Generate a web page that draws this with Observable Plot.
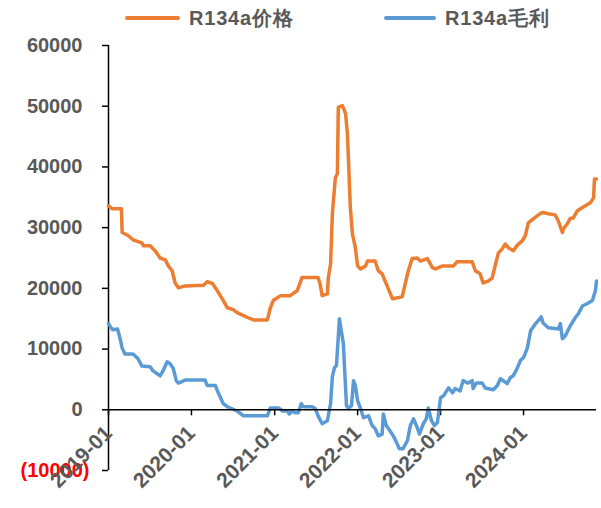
<!DOCTYPE html>
<html>
<head>
<meta charset="utf-8">
<script src="https://cdn.jsdelivr.net/npm/d3@7"></script>
<script src="https://cdn.jsdelivr.net/npm/@observablehq/plot@0.6"></script>
<style>
  html, body { margin: 0; padding: 0; background: #fff; }
  #legend { position: relative; width: 601px; height: 30px; font-family: "Liberation Sans", Arial, sans-serif; font-weight: bold; font-size: 20px; color: #595959; }
  #legend .sw { position: absolute; height: 4px; top: 16px; border-radius: 2px; }
  #legend .lb { position: absolute; top: 7px; line-height: 22px; white-space: nowrap; letter-spacing: 0.8px; }
</style>
</head>
<body>
<div id="legend"></div>
<div id="chart"></div>
<script>
// ---- data ----
const seriesNames = ["R134a价格", "R134a毛利"];
const seriesColors = ["#ED7D31", "#5B9BD5"];

const priceDates = ["2019-01-01","2019-01-18","2019-02-27","2019-03-02","2019-03-28","2019-04-19","2019-05-28","2019-06-03","2019-07-03","2019-07-25","2019-08-16","2019-09-08","2019-09-21","2019-10-08","2019-10-21","2019-11-04","2019-12-05","2020-02-23","2020-03-10","2020-04-02","2020-04-24","2020-05-15","2020-06-07","2020-07-03","2020-07-20","2020-09-04","2020-09-30","2020-11-30","2020-12-13","2020-12-26","2021-01-27","2021-03-10","2021-04-10","2021-04-23","2021-05-02","2021-07-11","2021-07-20","2021-07-29","2021-08-21","2021-08-25","2021-09-04","2021-09-12","2021-09-25","2021-10-04","2021-10-08","2021-10-26","2021-11-09","2021-11-17","2021-11-22","2021-11-30","2021-12-09","2021-12-22","2022-01-01","2022-01-14","2022-02-05","2022-02-14","2022-03-19","2022-04-02","2022-04-19","2022-05-02","2022-06-03","2022-07-16","2022-07-29","2022-08-12","2022-08-29","2022-09-21","2022-10-04","2022-11-04","2022-11-26","2022-12-09","2023-01-10","2023-02-27","2023-03-15","2023-05-20","2023-06-03","2023-06-24","2023-07-07","2023-07-29","2023-08-16","2023-08-29","2023-09-12","2023-09-29","2023-10-13","2023-10-26","2023-11-17","2023-11-26","2023-12-09","2023-12-26","2024-01-09","2024-01-22","2024-02-14","2024-03-14","2024-03-27","2024-04-19","2024-05-19","2024-06-02","2024-06-20","2024-06-24","2024-07-11","2024-07-24","2024-08-07","2024-08-25","2024-09-16","2024-09-29","2024-10-21","2024-11-04","2024-11-08","2024-11-17"];
const priceValues = [33600,33100,33100,29200,28700,28000,27500,27000,27000,26200,25000,24700,23700,22900,20900,20100,20400,20500,21100,20800,19600,18300,16800,16500,16000,15200,14800,14800,16800,18000,18800,18800,19600,20900,21800,21800,20700,18800,19100,21700,24000,32300,38200,38900,49800,50100,48800,45500,41000,33300,29000,26700,23700,23200,23700,24500,24500,22900,22400,21200,18300,18600,20700,22900,24900,25000,24500,24900,23400,23200,23700,23700,24400,24400,22900,22400,20900,21200,21700,23700,25800,26500,27300,26700,26200,26700,27300,27800,28700,30800,31500,32300,32500,32300,32100,31100,29200,29800,30600,31500,31600,32800,33300,33600,34100,34900,38000,38000];

const marginDates = ["2019-01-01","2019-01-18","2019-02-10","2019-02-23","2019-03-02","2019-03-14","2019-04-19","2019-05-11","2019-05-28","2019-07-03","2019-07-16","2019-08-16","2019-08-29","2019-09-16","2019-09-29","2019-10-13","2019-10-26","2019-11-04","2019-12-05","2020-03-01","2020-03-10","2020-04-15","2020-04-28","2020-05-20","2020-06-07","2020-07-20","2020-08-17","2020-11-30","2020-12-13","2021-01-18","2021-02-05","2021-02-27","2021-03-06","2021-03-19","2021-04-02","2021-04-15","2021-04-28","2021-05-07","2021-06-15","2021-06-29","2021-07-11","2021-07-29","2021-08-21","2021-09-04","2021-09-12","2021-09-21","2021-09-30","2021-10-13","2021-10-21","2021-10-30","2021-11-13","2021-11-22","2021-12-05","2021-12-14","2021-12-22","2022-01-01","2022-01-14","2022-01-27","2022-02-18","2022-03-06","2022-03-19","2022-04-02","2022-04-19","2022-04-24","2022-05-07","2022-05-24","2022-06-07","2022-06-24","2022-07-03","2022-07-20","2022-08-08","2022-08-21","2022-09-04","2022-09-21","2022-09-30","2022-10-17","2022-10-30","2022-11-08","2022-11-22","2022-12-05","2022-12-18","2023-01-01","2023-01-14","2023-02-05","2023-02-23","2023-03-06","2023-03-28","2023-04-10","2023-05-02","2023-05-20","2023-05-24","2023-06-07","2023-07-03","2023-07-16","2023-08-21","2023-09-08","2023-09-21","2023-10-04","2023-10-21","2023-11-04","2023-11-17","2023-12-05","2023-12-18","2024-01-01","2024-01-18","2024-02-01","2024-02-23","2024-03-06","2024-03-19","2024-03-27","2024-04-19","2024-06-02","2024-06-11","2024-06-20","2024-07-03","2024-07-24","2024-08-16","2024-08-29","2024-09-16","2024-10-08","2024-10-30","2024-11-12","2024-11-17"];
const marginValues = [14200,13200,13300,11400,10200,9200,9200,8400,7200,7100,6400,5600,6400,7900,7600,6800,4800,4400,4900,4900,4000,4000,2800,1000,500,-200,-1000,-1000,300,300,-200,-200,-700,-200,-500,-500,1000,500,500,200,-1000,-2300,-1800,1000,5500,6900,7300,15000,13000,11000,700,200,700,4800,4000,1500,200,-1300,-1000,-2600,-3100,-4300,-4000,-700,-2600,-3500,-4300,-5600,-6400,-6400,-5100,-2600,-1500,-3000,-4000,-2300,-1500,300,-1800,-2600,-2100,2000,2300,3600,2800,3500,3100,4800,4400,4800,3500,4400,4400,3600,3300,4000,5100,4800,4300,5300,5600,6900,8100,8600,10200,13000,14200,14700,15300,14300,13500,13300,14200,11700,12200,13800,15200,15800,17100,17500,18000,19600,21200];

const yTicks = [-10000, 0, 10000, 20000, 30000, 40000, 50000, 60000];
const xTickLabels = ["2019-01", "2020-01", "2021-01", "2022-01", "2023-01", "2024-01"];
const xStart = "2019-01-01";
const xEnd = "2024-11-17";

// ---- build ----
const parse = d3.utcParse("%Y-%m-%d");
const rows = [
  ...priceDates.map((d, i) => ({date: parse(d), value: priceValues[i], series: seriesNames[0]})),
  ...marginDates.map((d, i) => ({date: parse(d), value: marginValues[i], series: seriesNames[1]}))
];
const xTicks = xTickLabels.map(s => d3.utcParse("%Y-%m")(s));
const gray = "#595959";
const fmt = v => v < 0 ? `(${Math.abs(v)})` : `${v}`;

const chart = Plot.plot({
  width: 601,
  height: 478,
  marginLeft: 108,
  marginRight: 5,
  marginTop: 15,
  marginBottom: 38,
  style: {fontFamily: "'Liberation Sans', Arial, sans-serif", fontSize: "20px", fontWeight: "bold", background: "#fff", color: "black", overflow: "visible"},
  x: {type: "utc", domain: [parse(xStart), parse(xEnd)], axis: null},
  y: {domain: [yTicks[0], yTicks[yTicks.length - 1]], axis: null},
  color: {domain: seriesNames, range: seriesColors},
  marks: [
    Plot.axisY(yTicks.filter(v => v >= 0), {anchor: "left", label: null, tickSize: 6, tickPadding: 20, tickFormat: fmt, stroke: "black", fill: gray, strokeWidth: 1.5}),
    Plot.axisY(yTicks.filter(v => v < 0), {anchor: "left", label: null, tickSize: 6, tickPadding: 13, tickFormat: fmt, stroke: "black", fill: "#FF0000", strokeWidth: 1.5}),
    Plot.ruleX([parse(xStart)], {y1: yTicks[0], y2: yTicks[yTicks.length - 1], stroke: "black", strokeWidth: 1.5}),
    Plot.ruleX(xTicks, {x: d => d, y1: 0, y2: 0, insetBottom: -6, stroke: "black", strokeWidth: 1.5}),
    Plot.text(xTicks, {x: d => d, y: 0, text: (d, i) => xTickLabels[i], rotate: -45, textAnchor: "end", dx: 0, dy: 20, fontSize: 21, fill: gray}),
    Plot.line(rows, {x: "date", y: "value", z: "series", stroke: "series", strokeWidth: 3.5, strokeLinejoin: "round", strokeLinecap: "round", curve: "linear"}),
    Plot.ruleY([0], {stroke: "black", strokeWidth: 1.5})
  ]
});
document.getElementById("chart").appendChild(chart);

// legend
const legend = document.getElementById("legend");
const legendPos = [{line: 125, w: 55, text: 189}, {line: 384, w: 52, text: 445}];
seriesNames.forEach((name, i) => {
  const sw = document.createElement("div");
  sw.className = "sw";
  sw.style.left = legendPos[i].line + "px";
  sw.style.width = legendPos[i].w + "px";
  sw.style.background = seriesColors[i];
  legend.appendChild(sw);
  const lb = document.createElement("div");
  lb.className = "lb";
  lb.style.left = legendPos[i].text + "px";
  lb.textContent = name;
  legend.appendChild(lb);
});
</script>
</body>
</html>
